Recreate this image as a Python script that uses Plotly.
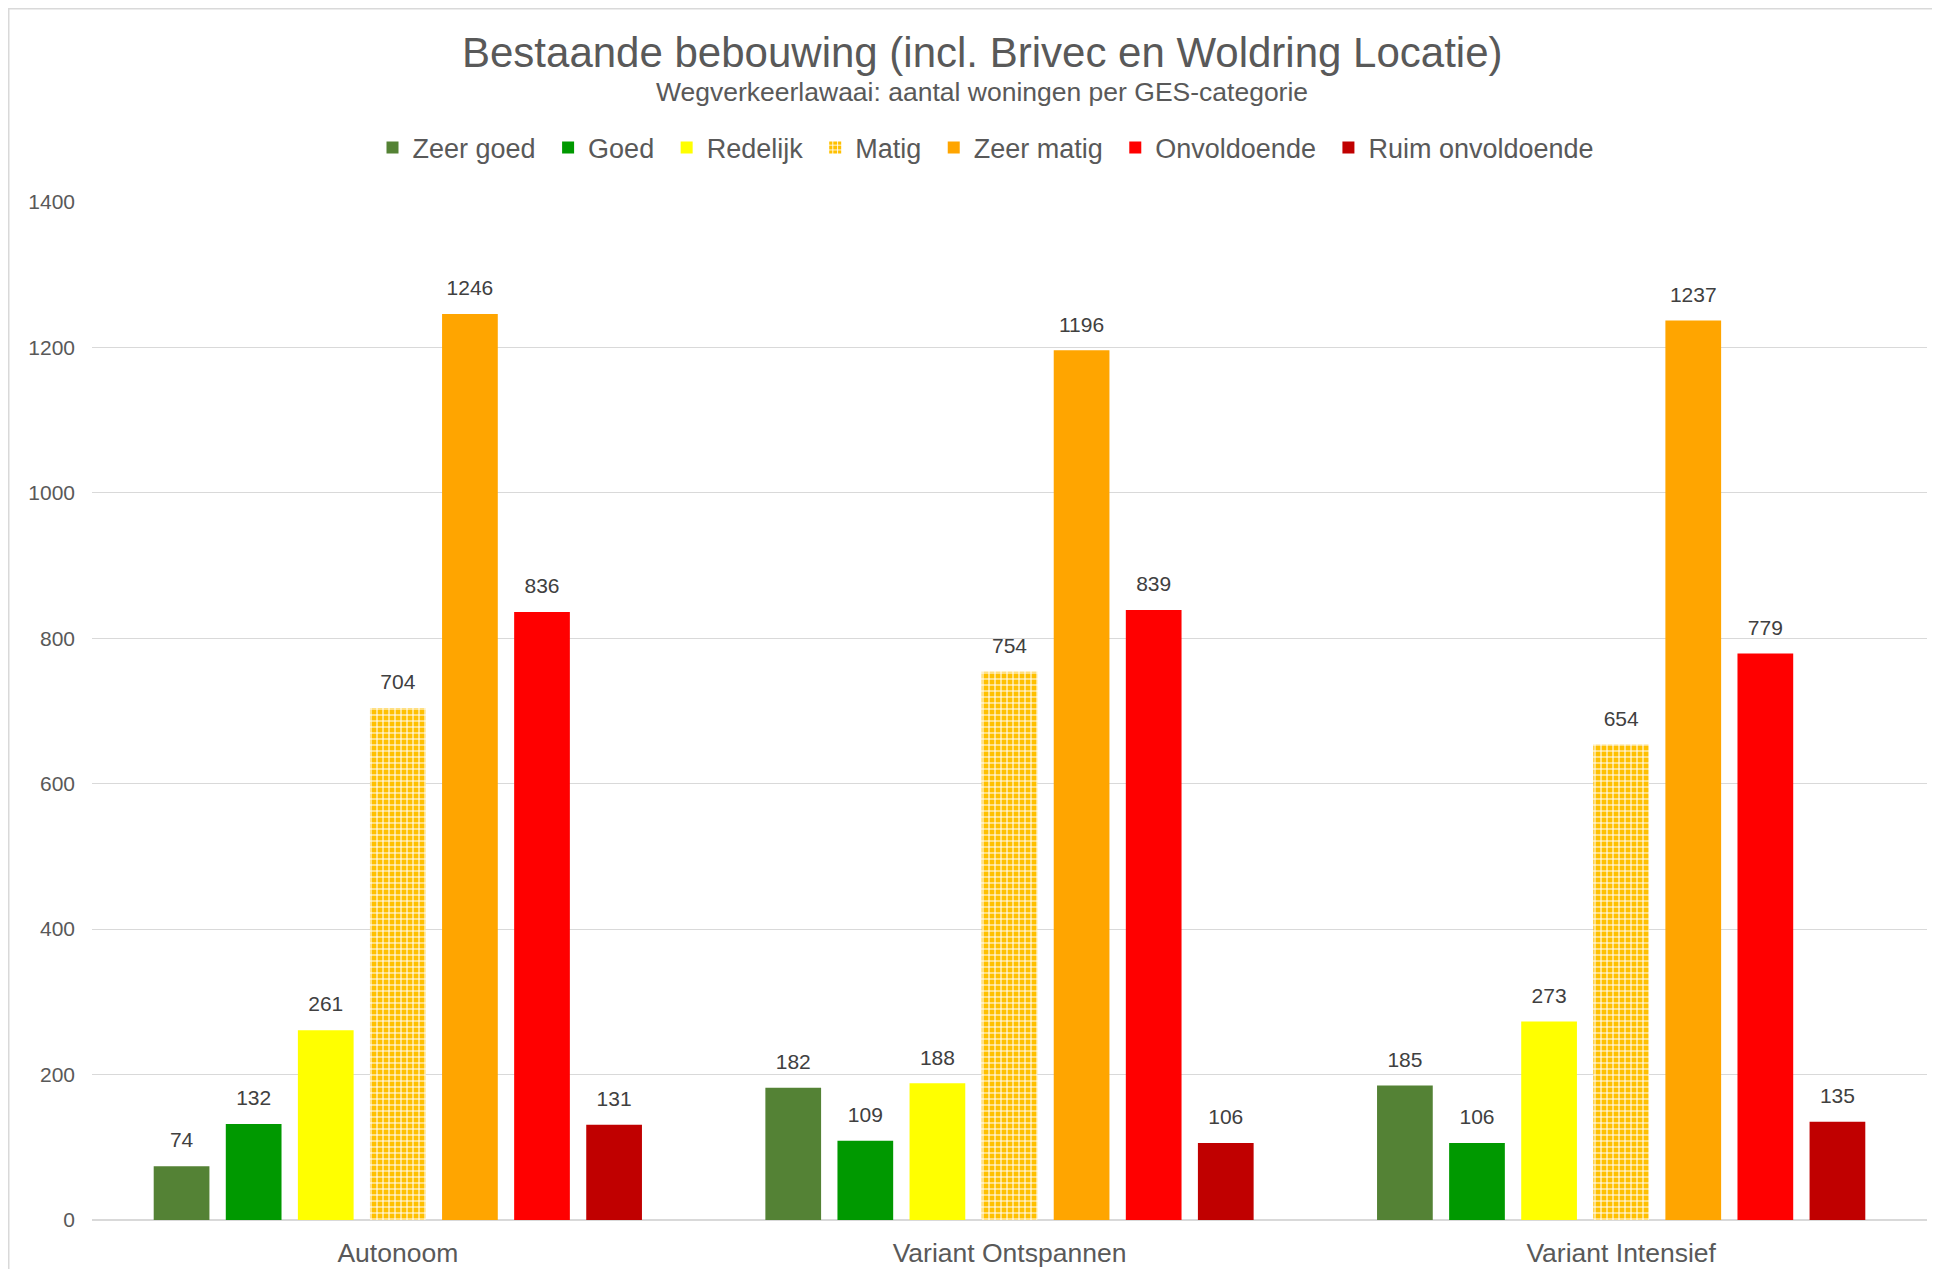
import plotly.graph_objects as go

categories = ["Autonoom", "Variant Ontspannen", "Variant Intensief"]
series_names = ["Zeer goed", "Goed", "Redelijk", "Matig", "Zeer matig", "Onvoldoende", "Ruim onvoldoende"]
zeer_goed = [74, 182, 185]
goed = [132, 109, 106]
redelijk = [261, 188, 273]
matig = [704, 754, 654]
zeer_matig = [1246, 1196, 1237]
onvoldoende = [836, 839, 779]
ruim_onvoldoende = [131, 106, 135]
colors = ["#548235", "#009900", "#FFFF00", "#FFC000", "#FFA500", "#FF0000", "#C00000"]
y_ticks = [0, 200, 400, 600, 800, 1000, 1200, 1400]

values = [zeer_goed, goed, redelijk, matig, zeer_matig, onvoldoende, ruim_onvoldoende]

FONT = "Liberation Sans, Arial, sans-serif"
OFF = 8  # default body margin of the page
W, H = 1940 - 2 * OFF, 1277 - 2 * OFF
L, T = 92 - OFF, 202 - OFF
R = W - (1927 - OFF)
B = H - (1220 - OFF)
pw, ph = W - L - R, H - T - B

BARGAP = 0.175

fig = go.Figure()
for i, (name, vals, col) in enumerate(zip(series_names, values, colors)):
    if name == "Matig":
        marker = dict(color=col, line=dict(width=0),
                      pattern=dict(shape="+", fgcolor="#FFFFFF", bgcolor=col,
                                   size=6, solidity=0.32, fillmode="replace"))
    else:
        marker = dict(color=col, line=dict(width=0))
    legend_name = name + ("\u00a0" if i < len(series_names) - 1 else "")
    fig.add_trace(go.Bar(name=legend_name, x=categories, y=vals, marker=marker, offsetgroup=name))

for name, vals in zip(series_names, values):
    fig.add_trace(go.Scatter(
        x=categories, y=vals, mode="markers+text", text=[str(v) for v in vals],
        textposition="top center", offsetgroup=name, showlegend=False, hoverinfo="skip",
        marker=dict(size=20, opacity=0, color="rgba(0,0,0,0)"),
        textfont=dict(family=FONT, size=21, color="#404040"), cliponaxis=False,
    ))

def px_x(x):
    return (x - OFF - L) / pw

def px_y(y):
    return (H - B - (y - OFF)) / ph

fig.update_layout(
    width=W, height=H,
    margin=dict(l=L, r=R, t=T, b=B, autoexpand=False),
    paper_bgcolor="white", plot_bgcolor="white",
    barmode="group", bargap=BARGAP, bargroupgap=0.227,
    scattermode="group", scattergap=BARGAP,
    font=dict(family=FONT, color="#595959"),
    showlegend=True,
    legend=dict(orientation="h", x=px_x(986), xanchor="center", y=px_y(148), yanchor="middle",
                font=dict(family=FONT, size=27, color="#595959"),
                itemwidth=30, tracegroupgap=0),
    xaxis=dict(showgrid=False, showline=False, zeroline=False, ticks="", ticklabelstandoff=14,
               automargin=False,
               tickfont=dict(family=FONT, size=26.5, color="#595959")),
    yaxis=dict(range=[0, 1400], tickvals=y_ticks, showgrid=True, gridcolor="#D9D9D9", gridwidth=1.3,
               zeroline=True, zerolinecolor="#D9D9D9", zerolinewidth=1.6, showline=False,
               ticks="", ticklabelstandoff=16, automargin=False,
               tickfont=dict(family=FONT, size=21, color="#595959")),
    annotations=[
        dict(text="Bestaande bebouwing (incl. Brivec en Woldring Locatie)", xref="paper", yref="paper",
             x=px_x(982), y=px_y(52), xanchor="center", yanchor="middle", showarrow=False,
             font=dict(family=FONT, size=42, color="#595959")),
        dict(text="Wegverkeerlawaai: aantal woningen per GES-categorie", xref="paper", yref="paper",
             x=px_x(982), y=px_y(92), xanchor="center", yanchor="middle", showarrow=False,
             font=dict(family=FONT, size=26.5, color="#595959")),
    ],
    shapes=[dict(type="rect", xref="paper", yref="paper",
                 x0=px_x(OFF + 0.75), x1=px_x(2000), y0=px_y(1400), y1=px_y(OFF + 0.75),
                 line=dict(color="#D9D9D9", width=1.5), fillcolor="rgba(0,0,0,0)", layer="below")],
)

fig.write_html("out.html")
